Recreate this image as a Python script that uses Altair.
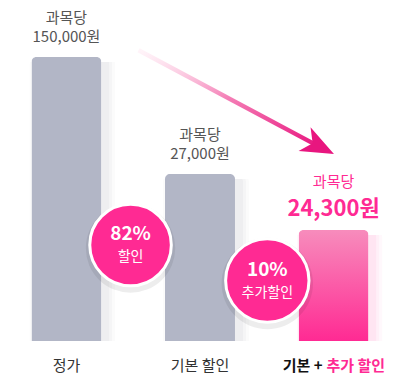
import altair as alt
import pandas as pd

# ---- data ----
categories = ["정가", "기본 할인", "기본 + 추가 할인"]
positions = [0, 1, 2]
bar_heights = [5.07, 2.98, 1.98]          # visual bar heights in grid units
price_prefix = ["과목당", "과목당", "과목당"]
price_labels = ["150,000원", "27,000원", "24,300원"]
badge_pct = ["82%", "10%"]
badge_text = ["할인", "추가할인"]
badge_x = [0.48, 1.504]
badge_y = [1.714, 1.08]
badge_area = [6650, 6950]
arrow_x = [0.54, 1.893]
arrow_y = [5.19, 3.471]
grid_values = [0, 1, 2, 3, 4, 5, 6]

PINK = "#ff2a93"
GRAY_BAR = "#b2b6c6"
FONT = "Noto Sans CJK KR"

bars = pd.DataFrame({"pos": positions, "h": bar_heights, "cat": categories,
                     "prefix": price_prefix, "price": price_labels})
gray_bars = bars.iloc[:2]
pink_bar = bars.iloc[2:]
badges = pd.DataFrame({"pos": badge_x, "h": badge_y, "pct": badge_pct,
                       "txt": badge_text, "s": badge_area})
arrow = pd.DataFrame({"pos": arrow_x, "h": arrow_y, "o": [0, 1]})
head = arrow.iloc[1:]
third_a, third_b = categories[2].split(" + ")
third_a = third_a + " +"
lab_plain = bars.iloc[:2]
lab_third = pd.DataFrame({"pos": [positions[2]], "h": [0], "a": [third_a], "b": [third_b]})

xs = alt.Scale(domain=[-0.46, 2.4526])
ys = alt.Scale(domain=[0, 6])
X = alt.X("pos:Q", scale=xs, axis=None)
Y = alt.Y("h:Q", scale=ys, axis=None)
Y_axis = alt.Y("h:Q", scale=ys, axis=alt.Axis(values=grid_values, grid=True, labels=False,
                                                ticks=False, domain=False, title=None,
                                                gridColor="#eaeaf0", gridWidth=1))

# grid via first layer
grid_layer = alt.Chart(bars).mark_bar(opacity=0, size=1).encode(x=X, y=Y_axis)

# arrow shaft with gradient
shaft = alt.Chart(arrow).mark_line(
    strokeWidth=4.5, strokeCap="butt",
    stroke=alt.Gradient(gradient="linear",
                        stops=[alt.GradientStop(color="rgba(255,220,236,0.3)", offset=0),
                               alt.GradientStop(color="#f47db5", offset=0.5),
                               alt.GradientStop(color="#e8167f", offset=1)],
                        x1=0, y1=0, x2=1, y2=1)
).encode(x=X, y=Y, order="o:Q")

arrow_head = alt.Chart(head).mark_point(
    shape="M1,0 L-1,-0.8 L-0.45,0 L-1,0.8 Z", filled=True, fill="#e8167f",
    strokeWidth=0, opacity=1, size=1089, angle=27
).encode(x=X, y=Y)

# bar shadows (soft, to the right)
shadows = []
for w, op in [(74, 0.05), (80, 0.04), (86, 0.03)]:
    shadows.append(alt.Chart(gray_bars).mark_bar(size=w, xOffset=6, yOffset=5, color="#707080",
                                                  opacity=op, cornerRadiusTopLeft=8,
                                                  cornerRadiusTopRight=8).encode(x=X, y=Y))
    shadows.append(alt.Chart(pink_bar).mark_bar(size=w, xOffset=6, yOffset=5, color=PINK,
                                                 opacity=op, cornerRadiusTopLeft=8,
                                                 cornerRadiusTopRight=8).encode(x=X, y=Y))

gray = alt.Chart(gray_bars).mark_bar(size=70, color=GRAY_BAR, cornerRadiusTopLeft=5,
                                     cornerRadiusTopRight=5).encode(x=X, y=Y)
pink = alt.Chart(pink_bar).mark_bar(
    size=70, cornerRadiusTopLeft=5, cornerRadiusTopRight=5,
    color=alt.Gradient(gradient="linear",
                       stops=[alt.GradientStop(color="#f78cbc", offset=0),
                              alt.GradientStop(color=PINK, offset=1)],
                       x1=0, y1=0, x2=0, y2=1)
).encode(x=X, y=Y)

# price labels
prefix_gray = alt.Chart(gray_bars).mark_text(font=FONT, fontSize=15, color="#555555",
                                             dy=-39, baseline="middle").encode(x=X, y=Y, text="prefix:N")
price_gray = alt.Chart(gray_bars).mark_text(font=FONT, fontSize=15, color="#555555",
                                            dy=-20, baseline="middle").encode(x=X, y=Y, text="price:N")
prefix_pink = alt.Chart(pink_bar).mark_text(font=FONT, fontSize=15, color=PINK,
                                            dy=-48, baseline="middle").encode(x=X, y=Y, text="prefix:N")
price_pink = alt.Chart(pink_bar).mark_text(font=FONT, fontSize=22, fontWeight="bold", color=PINK,
                                           dy=-21, baseline="middle").encode(x=X, y=Y, text="price:N")

# badges
badge_shadow = alt.Chart(badges).mark_point(shape="circle", filled=True, color="#000000",
                                            opacity=0.07, yOffset=3).encode(
    x=X, y=Y, size=alt.Size("s:Q", scale=alt.Scale(domain=[0, 6650], range=[0, 8000]), legend=None))
badge = alt.Chart(badges).mark_point(shape="circle", filled=True, fill=PINK, stroke="white",
                                     strokeWidth=3, opacity=1).encode(
    x=X, y=Y, size=alt.Size("s:Q", scale=None, legend=None))
badge_pct_t = alt.Chart(badges).mark_text(font=FONT, fontSize=19, fontWeight="bold", color="white",
                                          dy=-11, baseline="middle").encode(x=X, y=Y, text="pct:N")
badge_txt_t = alt.Chart(badges).mark_text(font=FONT, fontSize=14, color="white",
                                          dy=12, baseline="middle").encode(x=X, y=Y, text="txt:N")

# bottom category labels
cat_plain = alt.Chart(lab_plain).mark_text(font=FONT, fontSize=15, color="#333333", dy=25,
                                           baseline="middle").encode(
    x=X, y=alt.Y("z:Q", scale=ys, axis=None), text="cat:N").transform_calculate(z="0")
cat_a = alt.Chart(lab_third).mark_text(font=FONT, fontSize=15, fontWeight="bold", color="#111111",
                                       dy=25, dx=-11, align="right", baseline="middle").encode(
    x=X, y=Y, text="a:N")
cat_b = alt.Chart(lab_third).mark_text(font=FONT, fontSize=15, fontWeight="bold", color=PINK,
                                       dy=25, dx=-7, align="left", baseline="middle").encode(
    x=X, y=Y, text="b:N")

chart = alt.layer(
    grid_layer, shaft, arrow_head, *shadows, gray, pink,
    prefix_gray, price_gray, prefix_pink, price_pink,
    badge_shadow, badge, badge_pct_t, badge_txt_t,
    cat_plain, cat_a, cat_b
).properties(
    width=399, height=336,
    padding={"left": 0, "top": 5, "right": 0, "bottom": 37},
    autosize=alt.AutoSizeParams(type="none"),
    background="white"
).configure_view(stroke=None)

chart.save("out.html", embed_options={"renderer": "svg", "actions": False})
